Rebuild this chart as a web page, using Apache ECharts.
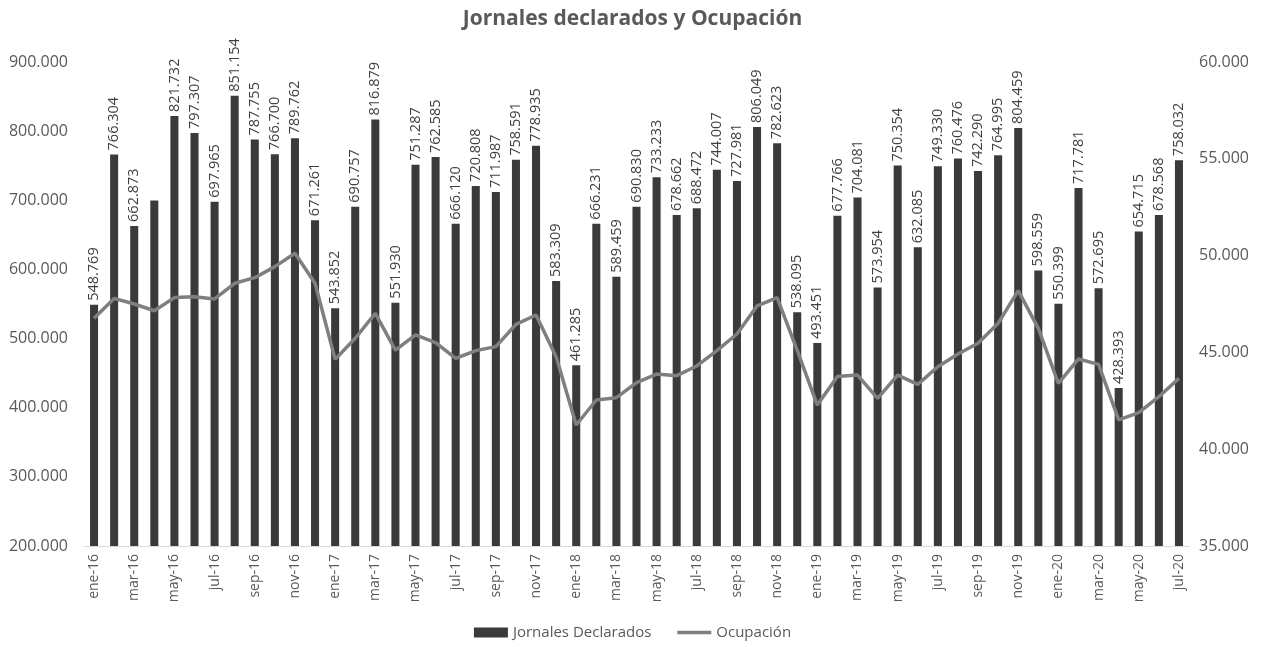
<!DOCTYPE html>
<html>
<head>
<meta charset="utf-8">
<script src="https://cdn.jsdelivr.net/npm/echarts@6/dist/echarts.min.js"></script>
<style>
html, body { margin: 0; padding: 0; background: #fff; }
#main { width: 1265px; height: 647px; }
</style>
</head>
<body>
<div id="main"></div>
<script>
var months = ['ene', 'feb', 'mar', 'abr', 'may', 'jun', 'jul', 'ago', 'sep', 'oct', 'nov', 'dic'];
var years = ['16', '17', '18', '19', '20'];

// categorias ene-16 .. jul-20
var categorias = [];
for (var y = 0; y < years.length; y++) {
	for (var m = 0; m < 12; m++) {
		if (years[y] == '20' && m > 6) break;
		categorias.push(months[m] + '-' + years[y]);
	}
}

var jornales = [
	548769, 766304, 662873, 699870, 821732, 797307, 697965, 851154, 787755, 766700, 789762, 671261,
	543852, 690757, 816879, 551930, 751287, 762585, 666120, 720808, 711987, 758591, 778935, 583309,
	461285, 666231, 589459, 690830, 733233, 678662, 688472, 744007, 727981, 806049, 782623, 538095,
	493451, 677766, 704081, 573954, 750354, 632085, 749330, 760476, 742290, 764995, 804459, 598559,
	550399, 717781, 572695, 428393, 654715, 678568, 758032
];

var ocupacion = [
	46760, 47790, 47500, 47150, 47830, 47880, 47760, 48570, 48860, 49430, 50120, 48570,
	44640, 45730, 47020, 45120, 45900, 45500, 44690, 45090, 45300, 46450, 46930, 44780,
	41250, 42540, 42660, 43440, 43880, 43800, 44300, 45090, 45950, 47400, 47830, 45100,
	42280, 43750, 43830, 42630, 43830, 43350, 44260, 44920, 45470, 46500, 48190, 46240,
	43400, 44660, 44380, 41510, 41890, 42710, 43660
];

// etiqueta de abr-16 no visible en el original
var sinEtiqueta = [3];

function fmt(v) {
	return String(Math.round(v)).replace(/\B(?=(\d{3})+(?!\d))/g, '.');
}

var barData = jornales.map(function (v, i) {
	if (sinEtiqueta.indexOf(i) >= 0) return { value: v, label: { show: false } };
	return v;
});

var font = "'Open Sans', 'Noto Sans', sans-serif";
var txt = '#595959';

var myChart = echarts.init(document.getElementById('main'));

var option = {
	backgroundColor: '#fff',
	animation: false,
	title: {
		text: 'Jornales declarados y Ocupación',
		left: 'center',
		top: 4,
		textStyle: {
			fontFamily: font,
			fontSize: 21,
			fontWeight: 'bold',
			color: txt
		}
	},
	legend: {
		bottom: 2,
		left: 'center',
		itemGap: 26,
		itemWidth: 34,
		itemHeight: 10,
		textStyle: { fontFamily: font, fontSize: 15, color: txt },
		data: [
			{ name: 'Jornales Declarados', icon: 'rect' },
			{ name: 'Ocupación', icon: 'path://M0,0H40V4H0Z' }
		]
	},
	grid: {
		left: 84,
		right: 76,
		top: 62,
		bottom: 101
	},
	xAxis: {
		type: 'category',
		data: categorias,
		axisTick: { show: false },
		axisLine: { lineStyle: { color: '#d9d9d9', width: 1 } },
		axisLabel: {
			rotate: 90,
			interval: 1,
			margin: 8,
			fontFamily: font,
			fontSize: 14,
			color: txt
		}
	},
	yAxis: [{
		type: 'value',
		min: 200000,
		max: 900000,
		interval: 100000,
		splitLine: { show: false },
		axisLine: { show: false },
		axisTick: { show: false },
		axisLabel: {
			margin: 16,
			fontFamily: font,
			fontSize: 16,
			color: txt,
			formatter: fmt
		}
	}, {
		type: 'value',
		min: 35000,
		max: 60000,
		interval: 5000,
		splitLine: { show: false },
		axisLine: { show: false },
		axisTick: { show: false },
		axisLabel: {
			margin: 10,
			fontFamily: font,
			fontSize: 16,
			color: txt,
			formatter: fmt
		}
	}],
	series: [{
		name: 'Jornales Declarados',
		type: 'bar',
		data: barData,
		barWidth: '40%',
		itemStyle: { color: '#3a3a3a' },
		label: {
			show: true,
			position: 'top',
			rotate: 90,
			align: 'left',
			verticalAlign: 'middle',
			distance: 4,
			fontFamily: font,
			fontSize: 14.5,
			color: '#404040',
			formatter: function (p) { return fmt(p.value); }
		}
	}, {
		name: 'Ocupación',
		type: 'line',
		yAxisIndex: 1,
		data: ocupacion,
		symbol: 'none',
		itemStyle: { color: '#7f7f7f' },
		lineStyle: { color: '#7f7f7f', width: 3.5 }
	}]
};

myChart.setOption(option);
</script>
</body>
</html>
